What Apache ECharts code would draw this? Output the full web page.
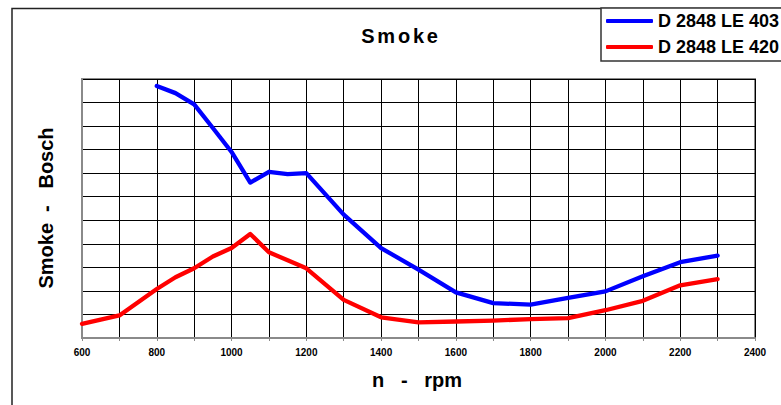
<!DOCTYPE html>
<html>
<head>
<meta charset="utf-8">
<script src="https://cdn.jsdelivr.net/npm/echarts@6/dist/echarts.min.js"></script>
<style>
  html, body { margin: 0; padding: 0; background: #fff; }
  #chart { width: 781px; height: 405px; }
</style>
</head>
<body>
<div id="chart"></div>
<script>
// Engine speed (rpm) for each measured point
const rpmA = [800, 850, 900, 950, 1000, 1050, 1100, 1150, 1200, 1300, 1400, 1500, 1600, 1700, 1800, 1900, 2000, 2100, 2200, 2300];
const smokeA = [5.35, 5.20, 4.96, 4.46, 3.95, 3.30, 3.53, 3.48, 3.50, 2.62, 1.91, 1.45, 0.97, 0.74, 0.71, 0.85, 0.99, 1.31, 1.61, 1.75];

const rpmB = [600, 700, 800, 850, 900, 950, 1000, 1050, 1100, 1150, 1200, 1300, 1400, 1500, 1600, 1700, 1800, 1900, 2000, 2100, 2200, 2300];
const smokeB = [0.30, 0.48, 1.04, 1.29, 1.48, 1.73, 1.91, 2.21, 1.82, 1.65, 1.48, 0.81, 0.44, 0.33, 0.35, 0.37, 0.40, 0.42, 0.59, 0.79, 1.12, 1.25];

const seriesNames = ['D 2848 LE 403', 'D 2848 LE 420'];
const seriesColors = ['#0000ff', '#ff0000'];

const titleText = 'Smoke';
const xName = 'n   -   rpm';
const yName = 'Smoke  -   Bosch';

const pairs = (xs, ys) => xs.map((x, i) => [x, ys[i]]);

const chart = echarts.init(document.getElementById('chart'), null, { renderer: 'svg' });

const font = '"Liberation Sans", Arial, sans-serif';

chart.setOption({
  animation: false,
  backgroundColor: '#fff',
  grid: {
    left: 82, right: 26, top: 79, bottom: 67,
    show: true, borderColor: '#8a8a8a', borderWidth: 2, backgroundColor: 'transparent'
  },
  legend: {
    orient: 'vertical',
    left: 601, top: 8,
    padding: [4, 30, 5, 5],
    backgroundColor: '#fff',
    borderColor: '#333',
    borderWidth: 1.5,
    itemWidth: 47, itemHeight: 4,
    itemGap: 8,
    icon: 'roundRect',
    textStyle: { fontFamily: font, fontWeight: 'bold', fontSize: 18, color: '#000', lineHeight: 18 },
    data: seriesNames
  },
  xAxis: {
    type: 'value', min: 600, max: 2400, interval: 100,
    axisLine: { show: true, lineStyle: { color: '#8a8a8a', width: 2 } },
    axisTick: { show: true, length: 3, lineStyle: { color: '#8a8a8a' } },
    splitLine: { show: true, lineStyle: { color: '#000', width: 1 } },
    axisLabel: {
      margin: 9,
      fontFamily: font, fontWeight: 'bold', fontSize: 10, color: '#000',
      formatter: v => (v % 200 === 0 ? String(v) : '')
    }
  },
  yAxis: {
    type: 'value', min: 0, max: 5.5, interval: 0.5,
    axisLine: { show: true, lineStyle: { color: '#8a8a8a', width: 2 } },
    axisTick: { show: false },
    axisLabel: { show: false },
    splitLine: { show: true, lineStyle: { color: '#000', width: 1 } }
  },
  graphic: [
    {
      type: 'rect', z: -1, silent: true,
      shape: { x: 12, y: 8.5, width: 820, height: 430 },
      style: { fill: 'none', stroke: '#222', lineWidth: 1.5 }
    },
    {
      type: 'text', id: 'title', x: 401, y: 36,
      style: { text: titleText, fontFamily: font, fontWeight: 'bold', fontSize: 20, fill: '#000', textAlign: 'center', textVerticalAlign: 'middle' }
    },
    {
      type: 'text', x: 417, y: 380,
      style: { text: xName, fontFamily: font, fontWeight: 'bold', fontSize: 20, fill: '#000', textAlign: 'center', textVerticalAlign: 'middle' }
    },
    {
      type: 'text', x: 46, y: 208, rotation: Math.PI / 2,
      style: { text: yName, fontFamily: font, fontWeight: 'bold', fontSize: 20, fill: '#000', textAlign: 'center', textVerticalAlign: 'middle' }
    }
  ],
  series: [
    {
      name: seriesNames[0], type: 'line', data: pairs(rpmA, smokeA),
      symbol: 'none', color: seriesColors[0],
      lineStyle: { width: 4.3, color: seriesColors[0], cap: 'round', join: 'round' }, z: 3
    },
    {
      name: seriesNames[1], type: 'line', data: pairs(rpmB, smokeB),
      symbol: 'none', color: seriesColors[1],
      lineStyle: { width: 4.3, color: seriesColors[1], cap: 'round', join: 'round' }, z: 3
    }
  ]
});

// Spread the heading letters a little
function spaceTitle() {
  document.querySelectorAll('#chart svg text').forEach(t => {
    if (t.textContent === titleText) t.setAttribute('letter-spacing', '2.8px');
  });
}
chart.on('finished', spaceTitle);
spaceTitle();
</script>
</body>
</html>
